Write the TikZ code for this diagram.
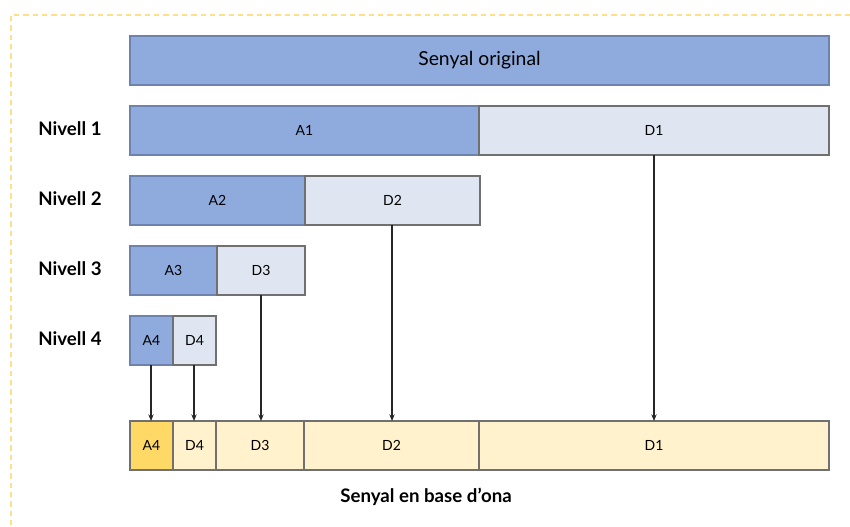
\documentclass[tikz,border=0pt]{standalone}
\usepackage{fontspec}
\setmainfont{Lato}
\usetikzlibrary{arrows.meta}
\definecolor{blueA}{HTML}{8FAADC}
\definecolor{blueD}{HTML}{DFE6F2}
\definecolor{blueE}{HTML}{6E82AE}
\definecolor{yelA}{HTML}{FFD966}
\definecolor{yelD}{HTML}{FFF2CC}
\definecolor{frameY}{HTML}{FFE08A}
\definecolor{edgeG}{HTML}{707070}
\begin{document}
\begin{tikzpicture}[x=0.75pt,y=-0.75pt,
  abox/.style={draw=blueE,fill=blueA,line width=0.9pt},
  dbox/.style={draw=edgeG,fill=blueD,line width=0.9pt},
  ybox/.style={draw=edgeG,fill=yelA,line width=0.9pt},
  lbox/.style={draw=edgeG,fill=yelD,line width=0.9pt},
  lbl/.style={font=\fontsize{10.5}{12}\selectfont},
  lvl/.style={font=\bfseries\fontsize{14}{16}\selectfont},
  arr/.style={-{Stealth[length=5pt,width=4pt]},line width=0.8pt,black!85}]
\useasboundingbox (0,0) rectangle (850,527);
\draw[frameY,dashed,line width=1.2pt,dash pattern=on 4pt off 3pt] (11,600) -- (11,15) -- (900,15);
% original
\draw[abox] (130,36) rectangle (829,85);
\node[font=\fontsize{14.5}{17}\selectfont] (orig) at (479.5,60) {Senyal original};
% level 1
\draw[abox] (130,106) rectangle (479,155);
\draw[dbox] (479,106) rectangle (829,155);
\node[lbl] (a1) at (304.5,130.5) {A1};
\node[lbl] (d1) at (654,130.5) {D1};
% level 2
\draw[abox] (130,176) rectangle (305,225);
\draw[dbox] (305,176) rectangle (480,225);
\node[lbl] (a2) at (217.5,200.5) {A2};
\node[lbl] (d2) at (392.5,200.5) {D2};
% level 3
\draw[abox] (130,246) rectangle (217,295);
\draw[dbox] (217,246) rectangle (305,295);
\node[lbl] (a3) at (173.5,270.5) {A3};
\node[lbl] (d3) at (261,270.5) {D3};
% level 4
\draw[abox] (130,316) rectangle (173,365);
\draw[dbox] (173,316) rectangle (216,365);
\node[lbl] (a4) at (151.5,340.5) {A4};
\node[lbl] (d4) at (194.5,340.5) {D4};
% level labels
\node[lvl] (n1) at (70,129) {Nivell 1};
\node[lvl] (n2) at (70,199) {Nivell 2};
\node[lvl] (n3) at (70,269) {Nivell 3};
\node[lvl] (n4) at (70,339) {Nivell 4};
% bottom row
\draw[ybox] (130,421) rectangle (173,470);
\draw[lbox] (173,421) rectangle (216,470);
\draw[lbox] (216,421) rectangle (304,470);
\draw[lbox] (304,421) rectangle (479,470);
\draw[lbox] (479,421) rectangle (829,470);
\node[lbl] (ba4) at (151.5,445.5) {A4};
\node[lbl] (bd4) at (194.5,445.5) {D4};
\node[lbl] (bd3) at (260,445.5) {D3};
\node[lbl] (bd2) at (391.5,445.5) {D2};
\node[lbl] (bd1) at (654,445.5) {D1};
% coordinates for arrows
\coordinate (s4a) at (151,365); \coordinate (e4a) at (151,421);
\coordinate (s4d) at (194,365); \coordinate (e4d) at (194,421);
\coordinate (s3) at (261,295); \coordinate (e3) at (261,421);
\coordinate (s2) at (392,225); \coordinate (e2) at (392,421);
\coordinate (s1) at (654,155); \coordinate (e1) at (654,421);
\draw[arr] (s4a) -- (e4a);
\draw[arr] (s4d) -- (e4d);
\draw[arr] (s3) -- (e3);
\draw[arr] (s2) -- (e2);
\draw[arr] (s1) -- (e1);
\node[font=\bfseries\fontsize{14}{16}\selectfont] (title) at (426,497) {Senyal en base d’ona};
\end{tikzpicture}
\end{document}
